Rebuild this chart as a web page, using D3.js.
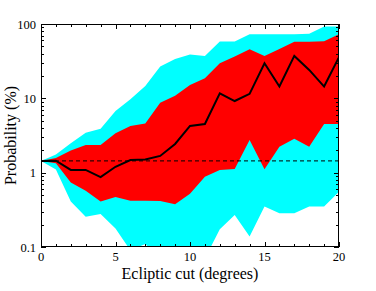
<!DOCTYPE html>
<html>
<head>
<meta charset="utf-8">
<script src="https://cdn.jsdelivr.net/npm/d3@7"></script>
<style>
	body { margin: 0; background: #fff; }
	svg { display: block; }
	text { font-family: "Liberation Serif", "DejaVu Serif", serif; fill: #000; }
</style>
</head>
<body>
<div id="chart"></div>
<script>
// ecliptic cut in degrees
const cut = [0, 1, 2, 3, 4, 5, 6, 7, 8, 9, 10, 11, 12, 13, 14, 15, 16, 17, 18, 19, 20];
// probability (%) - median line
const median = [1.44, 1.45, 1.09, 1.09, 0.87, 1.2, 1.48, 1.5, 1.68, 2.43, 4.25, 4.52, 11.7, 9.2, 11.5, 29.6, 14.4, 37.2, 24.1, 14.4, 35.8];
// inner band (red)
const redLo = [1.44, 1.34, 0.74, 0.57, 0.41, 0.47, 0.42, 0.42, 0.416, 0.376, 0.52, 0.88, 1.09, 1.12, 2.76, 1.11, 2.24, 2.87, 2.24, 4.52, 4.52];
const redHi = [1.44, 1.58, 1.98, 2.36, 2.36, 3.39, 4.25, 4.6, 8.7, 10.8, 15.1, 18.6, 29.6, 36.5, 45.6, 37.2, 46, 57.5, 57.5, 58.5, 73];
// outer band (cyan)
const cyanLo = [1.44, 1.1, 0.41, 0.256, 0.278, 0.178, 0.09, 0.11, 0.07, 0.06, 0.06, 0.07, 0.173, 0.27, 0.138, 0.35, 0.285, 0.285, 0.35, 0.35, 0.555];
const cyanHi = [1.44, 1.75, 2.49, 3.45, 3.9, 6.77, 9.7, 14.7, 26.8, 33.8, 38.8, 37.2, 58, 58, 73, 73, 73, 73, 74, 92.5, 92.5];
// reference level (dashed)
const baseline = 1.44;

const xTicks = [0, 5, 10, 15, 20];
const yTicks = [0.1, 1, 10, 100];
const yTickLabels = ["0.1", "1", "10", "100"];

const width = 376, height = 291;
const margin = { left: 41, right: 37, top: 24, bottom: 44 };
const x0 = margin.left, x1 = width - margin.right;
const y0 = height - margin.bottom, y1 = margin.top;

const x = d3.scaleLinear().domain([0, 20]).range([x0, x1]);
const y = d3.scaleLog().domain([0.1, 100]).range([y0, y1]);

const svg = d3.select("#chart").append("svg")
	.attr("width", width)
	.attr("height", height);

svg.append("clipPath").attr("id", "clip")
	.append("rect")
	.attr("x", x0).attr("y", y1)
	.attr("width", x1 - x0).attr("height", y0 - y1);

const plot = svg.append("g").attr("clip-path", "url(#clip)");

const band = (lo, hi) => d3.area()
	.x((d, i) => x(cut[i]))
	.y0((d, i) => y(lo[i]))
	.y1((d, i) => y(hi[i]));

plot.append("path")
	.datum(cut)
	.attr("fill", "#00ffff")
	.attr("d", band(cyanLo, cyanHi));

plot.append("path")
	.datum(cut)
	.attr("fill", "#ff0000")
	.attr("d", band(redLo, redHi));

plot.append("line")
	.attr("x1", x0).attr("x2", x1)
	.attr("y1", y(baseline)).attr("y2", y(baseline))
	.attr("stroke", "#000")
	.attr("stroke-width", 1)
	.attr("stroke-dasharray", "4,3");

plot.append("path")
	.datum(median)
	.attr("fill", "none")
	.attr("stroke", "#000")
	.attr("stroke-width", 2)
	.attr("stroke-linejoin", "miter")
	.attr("d", d3.line().x((d, i) => x(cut[i])).y((d) => y(d)));

// frame + ticks (all pointing inwards)
const axes = svg.append("g").attr("stroke", "#000").attr("stroke-width", 1);

const xMinor = d3.range(0, 21).filter((v) => v % 5 !== 0);
const yMinor = [];
[0.1, 1, 10].forEach((d) => {
	for (let k = 2; k <= 9; k++) yMinor.push(d * k);
});

const hTick = (v, len) => {
	const px = Math.round(x(v)) + 0.5;
	axes.append("line").attr("x1", px).attr("x2", px).attr("y1", y0).attr("y2", y0 - len);
	axes.append("line").attr("x1", px).attr("x2", px).attr("y1", y1).attr("y2", y1 + len);
};
const vTick = (v, len) => {
	const py = Math.round(y(v)) + 0.5;
	axes.append("line").attr("x1", x0).attr("x2", x0 + len).attr("y1", py).attr("y2", py);
	axes.append("line").attr("x1", x1).attr("x2", x1 - len).attr("y1", py).attr("y2", py);
};

xTicks.forEach((v) => hTick(v, 5));
xMinor.forEach((v) => hTick(v, 3));
yTicks.forEach((v) => vTick(v, 5));
yMinor.forEach((v) => vTick(v, 3));

axes.append("rect")
	.attr("x", x0 + 0.5).attr("y", y1 + 0.5)
	.attr("width", x1 - x0 - 1).attr("height", y0 - y1 - 1)
	.attr("fill", "none");

// tick labels
svg.append("g").selectAll("text")
	.data(xTicks)
	.join("text")
	.attr("x", (d) => x(d))
	.attr("y", y0 + 14)
	.attr("text-anchor", "middle")
	.attr("font-size", 12.5)
	.text((d) => d);

svg.append("g").selectAll("text")
	.data(yTicks)
	.join("text")
	.attr("x", x0 - 5)
	.attr("y", (d) => y(d) + 4.5)
	.attr("text-anchor", "end")
	.attr("font-size", 12.5)
	.text((d, i) => yTickLabels[i]);

// axis titles
svg.append("text")
	.attr("x", (x0 + x1) / 2)
	.attr("y", 278.5)
	.attr("text-anchor", "middle")
	.attr("font-size", 16)
	.text("Ecliptic cut (degrees)");

svg.append("text")
	.attr("transform", `translate(16,${(y0 + y1) / 2}) rotate(-90)`)
	.attr("text-anchor", "middle")
	.attr("font-size", 16)
	.text("Probability (%)");
</script>
</body>
</html>
